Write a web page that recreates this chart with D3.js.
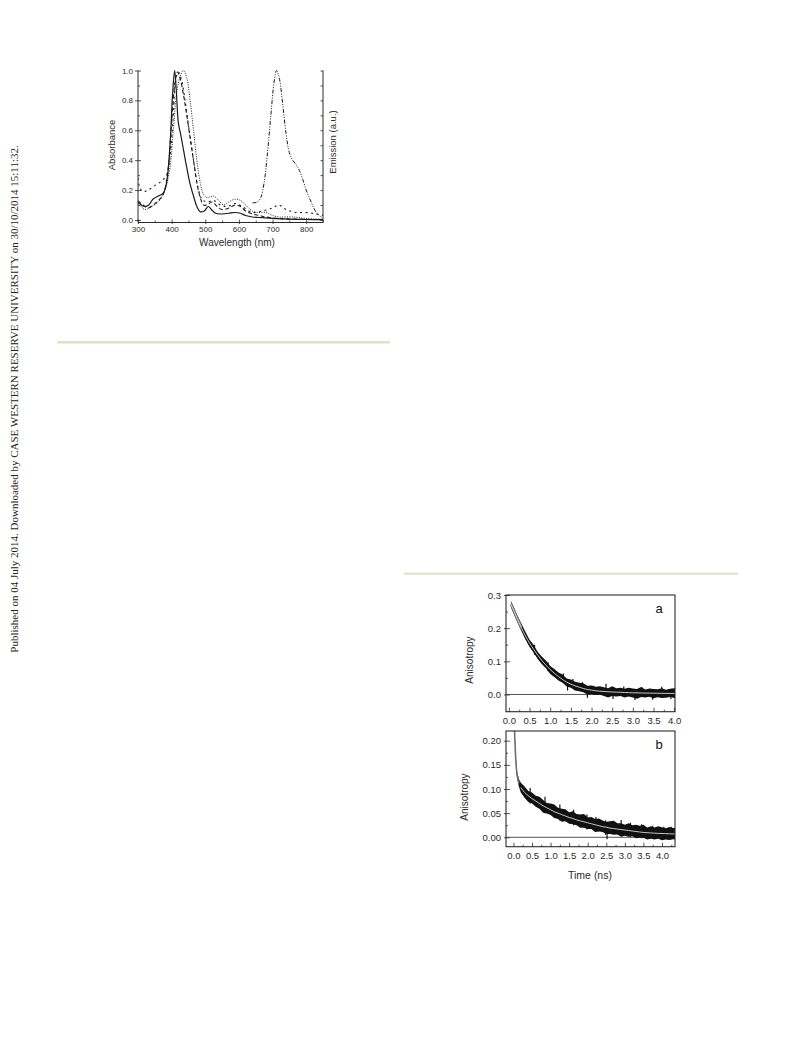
<!DOCTYPE html>
<html>
<head>
<meta charset="utf-8">
<script src="https://cdn.jsdelivr.net/npm/d3@7"></script>
<style>
  body { margin: 0; background: #fff; }
  svg { display: block; }
</style>
</head>
<body>
<script>
// Page size
const WIDTH = 793;
const HEIGHT = 1039;

// ---- Absorbance / emission spectra: [wavelength nm, normalised value] ----
const solidAbs = [[300,0.12],[310,0.10],[320,0.09],[332,0.10],[345,0.14],[360,0.16],[375,0.18],[385,0.25],[395,0.5],[403,0.85],[409,1.0],[414,0.86],[420,0.65],[428,0.56],[436,0.46],[445,0.35],[455,0.24],[465,0.16],[475,0.09],[485,0.055],[497,0.06],[509,0.09],[518,0.07],[530,0.045],[550,0.04],[570,0.045],[588,0.05],[605,0.045],[620,0.03],[640,0.02],[670,0.015],[700,0.01],[750,0.005],[800,0.003],[850,0.002]];
const dashAbs = [[300,0.13],[315,0.1],[330,0.08],[345,0.1],[360,0.13],[375,0.17],[390,0.35],[400,0.65],[410,0.92],[417,0.99],[425,0.95],[435,0.84],[445,0.7],[455,0.55],[465,0.4],[475,0.25],[485,0.15],[495,0.1],[505,0.1],[520,0.12],[535,0.09],[550,0.07],[570,0.08],[590,0.1],[605,0.09],[620,0.06],[640,0.04],[660,0.03],[680,0.02],[720,0.01],[780,0.005],[850,0.002]];
const shortDashAbs = [[300,0.28],[305,0.22],[315,0.19],[330,0.2],[350,0.23],[370,0.26],[385,0.3],[395,0.42],[405,0.7],[412,0.93],[420,0.99],[428,0.95],[440,0.8],[452,0.6],[465,0.4],[478,0.22],[490,0.14],[505,0.12],[525,0.13],[545,0.1],[565,0.09],[590,0.11],[610,0.09],[640,0.05],[670,0.06],[700,0.08],[718,0.1],[740,0.07],[770,0.05],[800,0.05],[830,0.04],[850,0.03]];
const dotAbs = [[300,0.11],[310,0.09],[320,0.07],[340,0.09],[360,0.12],[380,0.2],[395,0.35],[405,0.6],[415,0.85],[425,0.96],[435,1.0],[445,0.95],[455,0.8],[465,0.6],[475,0.4],[485,0.25],[495,0.17],[505,0.15],[515,0.155],[525,0.16],[540,0.13],[555,0.1],[570,0.12],[590,0.14],[605,0.13],[620,0.1],[640,0.06],[660,0.05],[680,0.05],[700,0.03],[720,0.02],[760,0.02],[800,0.01],[850,0.005]];
const emission = [[640,0.115],[655,0.12],[665,0.15],[675,0.25],[685,0.45],[695,0.7],[705,0.93],[712,1.0],[720,0.95],[730,0.78],[740,0.58],[750,0.45],[760,0.4],[770,0.37],[780,0.33],[790,0.27],[800,0.2],[815,0.12],[830,0.05],[845,0.02]];

const absXTicks = [300, 400, 500, 600, 700, 800];
const absXMinor = [350, 450, 550, 650, 750, 850];
const absYTicks = [0, 0.2, 0.4, 0.6, 0.8, 1.0];
const absYMinor = [0.1, 0.3, 0.5, 0.7, 0.9];
const emYTicks = [0, 0.1, 0.2, 0.3, 0.4, 0.5, 0.6, 0.7, 0.8, 0.9, 1.0];

// ---- Anisotropy decay (a) ----
const timeA = [0.05,0.1,0.2,0.3,0.4,0.5,0.6,0.7,0.8,0.9,1.0,1.1,1.2,1.3,1.4,1.5,1.6,1.7,1.8,1.9,2.0,2.1,2.2,2.3,2.4,2.5,2.6,2.7,2.8,2.9,3.0,3.1,3.2,3.3,3.4,3.5,3.6,3.7,3.8,3.9,4.0,4.1];
const fitA = [0.272,0.258,0.229,0.202,0.177,0.155,0.136,0.118,0.102,0.088,0.075,0.064,0.054,0.045,0.037,0.031,0.026,0.022,0.018,0.015,0.013,0.011,0.010,0.009,0.008,0.0075,0.007,0.0065,0.006,0.0055,0.005,0.0048,0.0045,0.0042,0.004,0.0038,0.0036,0.0034,0.0032,0.003,0.003,0.003];
const upA = [0.009,0.010,0.011,0.012,0.012,0.010,0.013,0.010,0.012,0.014,0.011,0.013,0.012,0.015,0.011,0.014,0.012,0.013,0.016,0.011,0.014,0.012,0.015,0.013,0.011,0.017,0.012,0.014,0.011,0.015,0.013,0.012,0.018,0.011,0.014,0.013,0.012,0.015,0.011,0.014,0.016,0.013];
const loA = [0.009,0.010,0.010,0.010,0.011,0.012,0.010,0.012,0.011,0.010,0.013,0.011,0.012,0.010,0.013,0.011,0.014,0.012,0.011,0.015,0.012,0.013,0.011,0.014,0.017,0.012,0.013,0.011,0.015,0.012,0.014,0.018,0.012,0.013,0.011,0.015,0.012,0.014,0.013,0.011,0.014,0.012];
// isolated noise excursions: [time, low, high]
const spikesA = [[0.62,0.12,0.15],[0.95,0.07,0.097],[1.32,0.035,0.063],[1.55,0.02,0.047],[1.78,0.008,0.037],[2.05,-0.002,0.026],[2.35,0.003,0.032],[2.52,-0.014,0.005],[2.78,0.0,0.024],[3.05,-0.017,0.0],[3.22,0.0,0.022],[3.48,-0.016,0.0],[3.7,0.0,0.023],[3.92,-0.014,0.0],[1.42,0.012,0.03],[1.9,-0.01,0.005]];

// ---- Anisotropy decay (b) ----
const timeB = [0.02,0.04,0.06,0.08,0.1,0.15,0.2,0.3,0.4,0.5,0.6,0.7,0.8,0.9,1.0,1.1,1.2,1.3,1.4,1.5,1.6,1.7,1.8,1.9,2.0,2.1,2.2,2.3,2.4,2.5,2.6,2.7,2.8,2.9,3.0,3.1,3.2,3.3,3.4,3.5,3.6,3.7,3.8,3.9,4.0,4.1,4.2,4.3,4.4];
const fitB = [0.24,0.2,0.165,0.142,0.128,0.112,0.103,0.093,0.086,0.080,0.075,0.070,0.065,0.061,0.057,0.053,0.050,0.047,0.044,0.041,0.039,0.036,0.034,0.032,0.030,0.028,0.026,0.024,0.022,0.021,0.019,0.018,0.017,0.016,0.015,0.014,0.013,0.012,0.011,0.010,0.0095,0.009,0.0085,0.008,0.0078,0.0075,0.0072,0.007,0.0068];
const upB = [0.003,0.003,0.004,0.005,0.006,0.008,0.010,0.012,0.010,0.013,0.011,0.014,0.012,0.010,0.013,0.015,0.011,0.012,0.014,0.011,0.015,0.012,0.013,0.016,0.011,0.014,0.012,0.015,0.013,0.011,0.014,0.016,0.012,0.013,0.011,0.015,0.012,0.014,0.013,0.016,0.011,0.014,0.012,0.015,0.013,0.011,0.014,0.012,0.013];
const loB = [0.003,0.003,0.004,0.005,0.006,0.008,0.010,0.011,0.013,0.010,0.012,0.011,0.014,0.012,0.011,0.013,0.012,0.015,0.011,0.013,0.012,0.011,0.014,0.012,0.013,0.011,0.015,0.012,0.011,0.014,0.012,0.013,0.011,0.015,0.012,0.013,0.011,0.014,0.012,0.011,0.014,0.012,0.013,0.011,0.014,0.012,0.013,0.011,0.012];
const spikesB = [[0.45,0.07,0.102],[0.85,0.05,0.084],[1.25,0.035,0.068],[1.62,0.025,0.057],[1.98,0.016,0.047],[2.22,0.012,0.042],[2.48,0.005,0.035],[2.52,-0.004,0.01],[2.9,0.006,0.036],[3.15,0.0,0.03],[3.45,-0.002,0.027],[3.75,-0.003,0.024],[4.05,-0.003,0.022],[4.25,-0.004,0.022]];

const timeTicks = [0, 0.5, 1.0, 1.5, 2.0, 2.5, 3.0, 3.5, 4.0];
const timeMinor = [0.25, 0.75, 1.25, 1.75, 2.25, 2.75, 3.25, 3.75, 4.25];
const anisoTicksA = [0, 0.1, 0.2, 0.3];
const anisoMinorA = [-0.05, 0.05, 0.15, 0.25];
const anisoTicksB = [0, 0.05, 0.10, 0.15, 0.20];
const anisoMinorB = [0.025, 0.075, 0.125, 0.175];

const FONT = "'Liberation Sans', Arial, sans-serif";
const INK = "#2a2a2a";

// SVG
const svg = d3.select("body").append("svg")
  .attr("width", WIDTH)
  .attr("height", HEIGHT);

svg.append("rect").attr("width", WIDTH).attr("height", HEIGHT).attr("fill", "#fff");

// Style an axis group
function styleAxis(g, size) {
  g.select(".domain").remove();
  g.selectAll(".tick line").attr("stroke", INK).attr("stroke-width", 0.8);
  g.selectAll(".tick text")
    .attr("fill", INK)
    .style("font-family", FONT)
    .style("font-size", size + "px");
}

// Side watermark
svg.append("text")
  .attr("transform", "translate(18,399) rotate(-90)")
  .attr("text-anchor", "middle")
  .style("font-family", "'Liberation Serif', 'Times New Roman', serif")
  .style("font-size", "11px")
  .attr("fill", "#222")
  .text("Published on 04 July 2014. Downloaded by CASE WESTERN RESERVE UNIVERSITY on 30/10/2014 15:11:32.");

// Separator rules
svg.append("line").attr("x1", 57).attr("x2", 390).attr("y1", 342.3).attr("y2", 342.3)
  .attr("stroke", "#e3dfca").attr("stroke-width", 2.6);
svg.append("line").attr("x1", 404).attr("x2", 738).attr("y1", 573.7).attr("y2", 573.7)
  .attr("stroke", "#e5e5d1").attr("stroke-width", 2.6);

// ================= Absorbance chart =================
const absX = d3.scaleLinear().domain([300, 850]).range([138, 323]);
const absY = d3.scaleLinear().domain([-0.017, 1.0]).range([222.5, 70.5]);
const gAbs = svg.append("g");

gAbs.append("clipPath").attr("id", "clipAbs")
  .append("rect").attr("x", 138).attr("y", 66).attr("width", 185).attr("height", 157);

const absLine = d3.line()
  .x((d) => absX(d[0]))
  .y((d) => absY(d[1]))
  .curve(d3.curveCatmullRom.alpha(0.5));

const absSeries = [
  { data: solidAbs, dash: null, w: 1.2 },
  { data: dashAbs, dash: "4,2.5", w: 1.1 },
  { data: shortDashAbs, dash: "2,3.5", w: 1.1 },
  { data: dotAbs, dash: "1,1.4", w: 1 },
  { data: emission, dash: "4,1.5,1,1.5,1,1.5", w: 1 }
];

gAbs.append("g").attr("clip-path", "url(#clipAbs)")
  .selectAll("path")
  .data(absSeries)
  .enter()
  .append("path")
  .attr("d", (s) => absLine(s.data))
  .attr("fill", "none")
  .attr("stroke", "#1a1a1a")
  .attr("stroke-width", (s) => s.w)
  .attr("stroke-dasharray", (s) => s.dash);

// axes lines
gAbs.append("path")
  .attr("d", "M" + absX.range()[0] + "," + absY(1.0) + "V" + absY.range()[0] + "H" + absX.range()[1] + "V" + absY(1.0))
  .attr("fill", "none").attr("stroke", INK).attr("stroke-width", 1);

gAbs.append("g").attr("transform", "translate(0," + absY.range()[0] + ")")
  .call(d3.axisBottom(absX).tickValues(absXTicks).tickSize(-3).tickPadding(4))
  .call(styleAxis, 8);
gAbs.append("g").attr("transform", "translate(0," + absY.range()[0] + ")")
  .call(d3.axisBottom(absX).tickValues(absXTicks).tickSize(1.5).tickFormat(""))
  .call(styleAxis, 8);
gAbs.append("g").attr("transform", "translate(0," + absY.range()[0] + ")")
  .call(d3.axisBottom(absX).tickValues(absXMinor).tickSize(-2).tickFormat(""))
  .call(styleAxis, 8);

gAbs.append("g").attr("transform", "translate(" + absX.range()[0] + ",0)")
  .call(d3.axisLeft(absY).tickValues(absYTicks).tickSize(3).tickPadding(2).tickFormat(d3.format(".1f")))
  .call(styleAxis, 8);
gAbs.append("g").attr("transform", "translate(" + absX.range()[0] + ",0)")
  .call(d3.axisLeft(absY).tickValues(absYTicks).tickSize(-3).tickFormat(""))
  .call(styleAxis, 8);
gAbs.append("g").attr("transform", "translate(" + absX.range()[0] + ",0)")
  .call(d3.axisLeft(absY).tickValues(absYMinor).tickSize(-2).tickFormat(""))
  .call(styleAxis, 8);

gAbs.append("g").attr("transform", "translate(" + absX.range()[1] + ",0)")
  .call(d3.axisRight(absY).tickValues(emYTicks).tickSize(-2.5).tickFormat(""))
  .call(styleAxis, 8);

gAbs.append("text")
  .attr("transform", "translate(115,145) rotate(-90)")
  .attr("text-anchor", "middle")
  .style("font-family", FONT).style("font-size", "9.5px").attr("fill", INK)
  .text("Absorbance");
gAbs.append("text")
  .attr("transform", "translate(336,142) rotate(-90)")
  .attr("text-anchor", "middle")
  .style("font-family", FONT).style("font-size", "9.5px").attr("fill", INK)
  .text("Emission (a.u.)");
gAbs.append("text")
  .attr("x", 237).attr("y", 246)
  .attr("text-anchor", "middle")
  .style("font-family", FONT).style("font-size", "10px").attr("fill", INK)
  .text("Wavelength (nm)");

// ================= Anisotropy panels =================
function drawPanel(cfg) {
  const x = d3.scaleLinear().domain(cfg.xDomain).range([506, 675]);
  const y = d3.scaleLinear().domain(cfg.yDomain).range([cfg.bottom, cfg.top]);
  const g = svg.append("g");
  const rows = cfg.time.map((t, i) => ({ t: t, fit: cfg.fit[i], up: cfg.up[i], lo: cfg.lo[i] }));

  g.append("clipPath").attr("id", cfg.id)
    .append("rect").attr("x", 506).attr("y", cfg.top).attr("width", 169).attr("height", cfg.bottom - cfg.top);

  const plot = g.append("g").attr("clip-path", "url(#" + cfg.id + ")");

  const band = d3.area()
    .x((d) => x(d.t))
    .y0((d) => y(d.fit - d.lo))
    .y1((d) => y(d.fit + d.up));

  // zero line
  plot.append("line")
    .attr("x1", 506).attr("x2", 675).attr("y1", y(0)).attr("y2", y(0))
    .attr("stroke", INK).attr("stroke-width", 0.8);

  plot.append("path").attr("d", band(rows)).attr("fill", "#111");
  const early = rows.filter((d) => d.t <= cfg.greyUntil);
  plot.append("path").attr("d", band(early)).attr("fill", "#6e6e6e");
  // early data trace drawn as a grey stroke
  plot.append("path")
    .attr("d", d3.line().x((d) => x(d.t)).y((d) => y(d.fit))(early))
    .attr("fill", "none").attr("stroke", "#6e6e6e").attr("stroke-width", cfg.earlyWidth);

  plot.append("g")
    .selectAll("line")
    .data(cfg.spikes)
    .enter()
    .append("line")
    .attr("x1", (d) => x(d[0])).attr("x2", (d) => x(d[0]))
    .attr("y1", (d) => y(d[1])).attr("y2", (d) => y(d[2]))
    .attr("stroke", "#111").attr("stroke-width", 1.2);

  plot.append("path")
    .attr("d", d3.line().x((d) => x(d.t)).y((d) => y(d.fit)).curve(d3.curveMonotoneX)(rows.filter((d) => d.t >= cfg.fitFrom)))
    .attr("fill", "none").attr("stroke", "#f4f4f4").attr("stroke-width", 0.8);

  // frame
  g.append("rect")
    .attr("x", 506).attr("y", cfg.top).attr("width", 169).attr("height", cfg.bottom - cfg.top)
    .attr("fill", "none").attr("stroke", INK).attr("stroke-width", 1.1);

  g.append("g").attr("transform", "translate(0," + cfg.bottom + ")")
    .call(d3.axisBottom(x).tickValues(timeTicks).tickSize(-4).tickPadding(6).tickFormat(d3.format(".1f")))
    .call(styleAxis, 9.5);
  g.append("g").attr("transform", "translate(0," + cfg.bottom + ")")
    .call(d3.axisBottom(x).tickValues(timeMinor.filter((v) => v < cfg.xDomain[1])).tickSize(-2).tickFormat(""))
    .call(styleAxis, 9.5);

  g.append("g").attr("transform", "translate(506,0)")
    .call(d3.axisLeft(y).tickValues(cfg.yTicks).tickSize(2).tickPadding(3).tickFormat(d3.format(cfg.yFormat)))
    .call(styleAxis, 9.5);
  g.append("g").attr("transform", "translate(506,0)")
    .call(d3.axisLeft(y).tickValues(cfg.yTicks).tickSize(-4).tickFormat(""))
    .call(styleAxis, 9.5);
  g.append("g").attr("transform", "translate(506,0)")
    .call(d3.axisLeft(y).tickValues(cfg.yMinor).tickSize(-2).tickFormat(""))
    .call(styleAxis, 9.5);

  g.append("text")
    .attr("transform", "translate(" + cfg.titleX + "," + cfg.titleY + ") rotate(-90)")
    .attr("text-anchor", "middle")
    .style("font-family", FONT).style("font-size", "10px").attr("fill", INK)
    .text("Anisotropy");

  g.append("text")
    .attr("x", 659).attr("y", cfg.top + 18)
    .attr("text-anchor", "middle")
    .style("font-family", FONT).style("font-size", "13px").attr("fill", "#111")
    .text(cfg.letter);

  return g;
}

drawPanel({
  id: "clipA", letter: "a",
  top: 595, bottom: 711.7,
  xDomain: [-0.07, 4.02], yDomain: [-0.052, 0.3],
  time: timeA, fit: fitA, up: upA, lo: loA, spikes: spikesA,
  greyUntil: 0.3, fitFrom: 0.05, earlyWidth: 2.4,
  yTicks: anisoTicksA, yMinor: anisoMinorA, yFormat: ".1f",
  titleX: 473, titleY: 660
});

drawPanel({
  id: "clipB", letter: "b",
  top: 731, bottom: 846.7,
  xDomain: [-0.2, 4.35], yDomain: [-0.0195, 0.2201],
  time: timeB, fit: fitB, up: upB, lo: loB, spikes: spikesB,
  greyUntil: 0.15, fitFrom: 0.2, earlyWidth: 1.6,
  yTicks: anisoTicksB, yMinor: anisoMinorB, yFormat: ".2f",
  titleX: 468, titleY: 797
});

svg.append("text")
  .attr("x", 590).attr("y", 879)
  .attr("text-anchor", "middle")
  .style("font-family", FONT).style("font-size", "10.5px").attr("fill", INK)
  .text("Time (ns)");
</script>
</body>
</html>
